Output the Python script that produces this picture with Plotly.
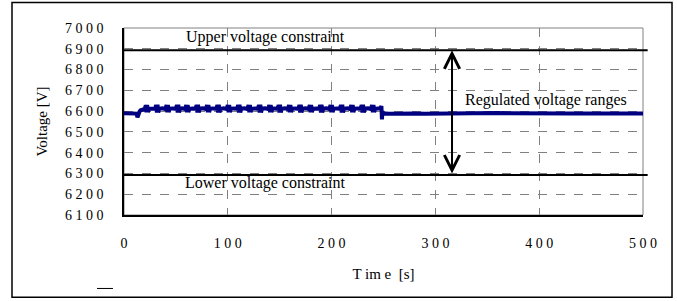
import plotly.graph_objects as go

# ---- data ----
time_s = [0, 6, 10, 12, 13, 14, 15, 16, 18, 19,
          20, 21, 21.7, 22.3, 23, 24, 27,
          30, 31, 31.7, 32.3, 33, 34, 37,
          40, 41, 41.7, 42.3, 43, 44, 47,
          50, 51, 51.7, 52.3, 53, 54, 56,
          59, 60, 60.7, 61.3, 62, 63, 66,
          69, 70, 70.7, 71.3, 72, 73, 76,
          79, 80, 80.7, 81.3, 82, 83, 86,
          89, 90, 90.7, 91.3, 92, 93, 96,
          99, 100, 100.7, 101.3, 102, 103, 106,
          109, 110, 110.7, 111.3, 112, 113, 116,
          119, 120, 120.7, 121.3, 122, 123, 126,
          129, 130, 130.7, 131.3, 132, 133, 136,
          139, 140, 140.7, 141.3, 142, 143, 145,
          148, 149, 149.7, 150.3, 151, 152, 155,
          158, 159, 159.7, 160.3, 161, 162, 165,
          168, 169, 169.7, 170.3, 171, 172, 175,
          178, 179, 179.7, 180.3, 181, 182, 185,
          188, 189, 189.7, 190.3, 191, 192, 195,
          198, 199, 199.7, 200.3, 201, 202, 205,
          208, 209, 209.7, 210.3, 211, 212, 215,
          218, 219, 219.7, 220.3, 221, 222, 225,
          228, 229, 229.7, 230.3, 231, 232, 235,
          238, 239, 239.7, 240.3, 241, 242, 245,
          247, 248, 248.5, 249, 250, 252, 256, 262, 270, 280,
          290, 300, 310, 320, 330, 340, 350, 360, 370, 380,
          390, 400, 410, 420, 430, 440, 450, 460, 470, 480,
          490, 500]

voltage_v = [6590, 6590, 6589, 6588, 6570, 6590, 6598, 6604, 6608, 6610,
             6610, 6628, 6594, 6630, 6595, 6611, 6613,
             6611, 6629, 6593, 6631, 6594, 6611, 6614,
             6610, 6630, 6594, 6630, 6595, 6612, 6613,
             6611, 6629, 6593, 6631, 6594, 6612, 6614,
             6610, 6630, 6594, 6630, 6595, 6611, 6613,
             6611, 6629, 6593, 6631, 6594, 6612, 6614,
             6610, 6630, 6594, 6630, 6595, 6612, 6613,
             6611, 6629, 6593, 6631, 6594, 6611, 6614,
             6610, 6630, 6594, 6630, 6595, 6612, 6613,
             6611, 6629, 6593, 6631, 6594, 6612, 6614,
             6610, 6630, 6594, 6630, 6595, 6611, 6613,
             6611, 6629, 6593, 6631, 6594, 6612, 6614,
             6610, 6630, 6594, 6630, 6595, 6612, 6613,
             6611, 6629, 6593, 6631, 6594, 6611, 6614,
             6610, 6630, 6594, 6630, 6595, 6612, 6613,
             6611, 6629, 6593, 6631, 6594, 6612, 6614,
             6610, 6630, 6594, 6630, 6595, 6611, 6613,
             6611, 6629, 6593, 6631, 6594, 6612, 6614,
             6610, 6630, 6594, 6630, 6595, 6612, 6613,
             6611, 6629, 6593, 6631, 6594, 6611, 6614,
             6610, 6630, 6594, 6630, 6595, 6612, 6613,
             6611, 6629, 6593, 6631, 6594, 6612, 6614,
             6610, 6630, 6594, 6630, 6595, 6611, 6613,
             6614, 6624, 6560, 6598, 6586, 6588, 6587, 6588, 6586, 6588,
             6587, 6588, 6589, 6590, 6591, 6592, 6592, 6591, 6590, 6589,
             6588, 6589, 6588, 6587, 6588, 6589, 6588, 6587, 6588, 6589,
             6588, 6588]

upper_constraint = 6893
lower_constraint = 6292
arrow_time = 316

x_ticks = [0, 100, 200, 300, 400, 500]
y_ticks = [6100, 6200, 6300, 6400, 6500, 6600, 6700, 6800, 6900, 7000]
x_ticktext = [" ".join(str(v)) for v in x_ticks]
y_ticktext = [" ".join(str(v)) for v in y_ticks]

FONT = "Liberation Serif"

fig = go.Figure()
fig.add_trace(go.Scatter(
    x=time_s, y=voltage_v, mode="lines",
    line=dict(color="#000080", width=4),
    showlegend=False, hoverinfo="skip",
))

# constraint lines
for yv in (upper_constraint, lower_constraint):
    fig.add_shape(type="line", xref="paper", yref="y", x0=0, x1=1.009,
                  y0=yv, y1=yv, line=dict(color="black", width=2), layer="above")

# plot area border (grey top/right)
fig.add_shape(type="rect", xref="paper", yref="paper", x0=0, x1=1, y0=0, y1=1,
              line=dict(color="#808080", width=1), layer="below")
# outer frame
fig.add_shape(type="rect", xref="paper", yref="paper",
              x0=-0.2158, x1=1.0559, y0=-0.4397, y1=1.1367,
              line=dict(color="black", width=1.5))
# small legend stub
fig.add_shape(type="line", xref="paper", yref="paper",
              x0=-0.052, x1=-0.0212, y0=-0.3928, y1=-0.3928,
              line=dict(color="black", width=1))

# double arrow
fig.add_annotation(x=arrow_time, y=upper_constraint, ax=arrow_time, ay=lower_constraint,
                   xref="x", yref="y", axref="x", ayref="y", text="",
                   showarrow=True, arrowhead=5, startarrowhead=5, arrowside="end+start",
                   arrowwidth=2, arrowsize=1.5, startarrowsize=1.5, arrowcolor="black")

ANN_FONT = dict(family=FONT, size=16, color="black")
fig.add_annotation(x=136, y=6955, xref="x", yref="y", text="Upper voltage constraint",
                   showarrow=False, font=ANN_FONT)
fig.add_annotation(x=136, y=6252, xref="x", yref="y", text="Lower voltage constraint",
                   showarrow=False, font=ANN_FONT)
fig.add_annotation(x=407, y=6655, xref="x", yref="y", text="Regulated voltage ranges",
                   showarrow=False, font=ANN_FONT)

fig.update_layout(
    width=677, height=301,
    margin=dict(l=124, r=34, t=28, b=86),
    paper_bgcolor="white", plot_bgcolor="white",
    font=dict(family=FONT, size=14, color="black"),
    xaxis=dict(range=[0, 500], tickvals=x_ticks, ticktext=x_ticktext,
               showgrid=True, gridcolor="#808080", griddash="dash", gridwidth=1,
               showline=True, linecolor="black", linewidth=1.5,
               ticks="", ticklabelstandoff=14, zeroline=False,
               title=dict(text="T im e  [s]", font=dict(family=FONT, size=15), standoff=19),
               fixedrange=True),
    yaxis=dict(range=[6100, 7000], tickvals=y_ticks, ticktext=y_ticktext,
               showgrid=True, gridcolor="#808080", griddash="dash", gridwidth=1,
               showline=True, linecolor="black", linewidth=1.5,
               ticks="", ticklabelstandoff=16, zeroline=False,
               title=dict(text="Voltage [V]", font=dict(family=FONT, size=15), standoff=14),
               fixedrange=True),
)

fig.write_html("out.html", config={"displayModeBar": False},
               post_script="document.body.style.margin='0';")
